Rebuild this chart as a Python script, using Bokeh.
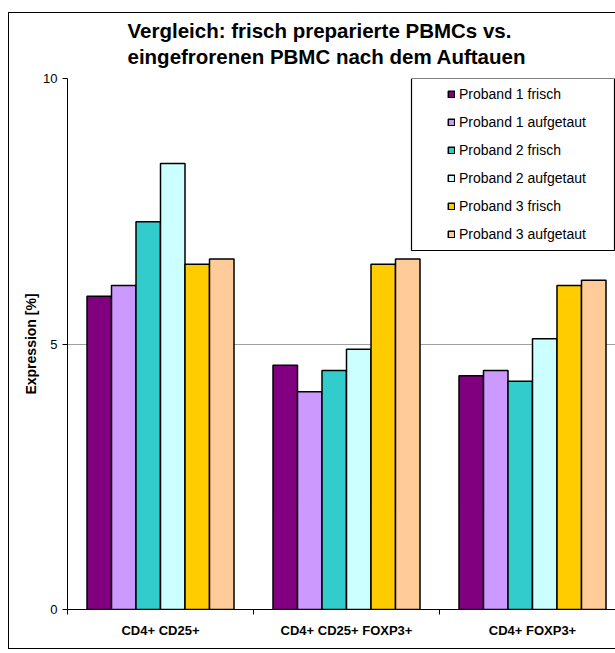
from bokeh.plotting import figure
from bokeh.models import (Range1d, FixedTicker, Legend, LegendItem, BoxAnnotation, Title,
                          ColumnDataSource, InlineStyleSheet)
from bokeh.embed import file_html
from bokeh.resources import INLINE

categories = ["CD4+ CD25+", "CD4+ CD25+ FOXP3+", "CD4+ FOXP3+"]
series_names = ["Proband 1 frisch", "Proband 1 aufgetaut", "Proband 2 frisch",
                "Proband 2 aufgetaut", "Proband 3 frisch", "Proband 3 aufgetaut"]
p1_frisch = [5.9, 4.6, 4.4]
p1_aufgetaut = [6.1, 4.1, 4.5]
p2_frisch = [7.3, 4.5, 4.3]
p2_aufgetaut = [8.4, 4.9, 5.1]
p3_frisch = [6.5, 6.5, 6.1]
p3_aufgetaut = [6.6, 6.6, 6.2]
series_values = [p1_frisch, p1_aufgetaut, p2_frisch, p2_aufgetaut, p3_frisch, p3_aufgetaut]
colors = ["#800080", "#CC99FF", "#33CCCC", "#CCFFFF", "#FFCC00", "#FFCC99"]
y_ticks = [0, 5, 10]
title_lines = ["Vergleich: frisch preparierte PBMCs vs.", "eingefrorenen PBMC nach dem Auftauen"]

FONT = "Liberation Sans"
W, H = 615, 653
FRAME_L, FRAME_T, FRAME_B = 67, 78, 609
CAT_PX = 186.0
x_end = (W - FRAME_L) / CAT_PX

p = figure(width=W, height=H, output_backend="svg", toolbar_location=None,
           x_range=Range1d(0, x_end), y_range=Range1d(0, 10), title=None,
           min_border_left=FRAME_L, min_border_right=0, min_border_top=FRAME_T,
           min_border_bottom=H - FRAME_B)
p.outline_line_color = None
p.background_fill_color = "white"
p.border_fill_color = "white"
p.stylesheets = [InlineStyleSheet(css="""
:host { position: relative; overflow: hidden; }
:host::after { content: ''; position: absolute; left: 8px; top: 12px; width: 640px; height: 637px;
  border: 1px solid black; box-sizing: border-box; pointer-events: none; }
""")]

t = Title(text="\n".join(title_lines), align="left", offset=60, standoff=20,
          text_font=FONT, text_font_size="20.5px", text_font_style="bold", text_color="black",
          text_line_height=1.15)
p.add_layout(t, "above")

bw = 24.5 / CAT_PX
renderers = []
for j, (name, vals, col) in enumerate(zip(series_names, series_values, colors)):
    xs = [i + 0.5 + (j - 2.5) * bw for i in range(len(categories))]
    src = ColumnDataSource(dict(x=xs, top=vals))
    r = p.vbar(x="x", top="top", width=bw, bottom=0, source=src, fill_color=col,
               line_color="black", line_width=1.5)
    renderers.append(r)

# axes
p.xgrid.visible = False
p.ygrid.ticker = FixedTicker(ticks=[5, 10])
p.ygrid.grid_line_color = "#a0a0a0"
p.ygrid.grid_line_width = 1

xa = p.xaxis[0]
xa.ticker = FixedTicker(ticks=[i + 0.5 for i in range(len(categories))],
                        minor_ticks=[float(i) for i in range(len(categories) + 1)])
xa.major_label_overrides = {i + 0.5: c for i, c in enumerate(categories)}
xa.major_tick_line_color = None
xa.major_tick_out = 0
xa.major_tick_in = 0
xa.minor_tick_out = 5
xa.minor_tick_in = 0
xa.minor_tick_line_color = "black"
xa.major_label_standoff = 8
xa.major_label_text_font = FONT
xa.major_label_text_font_size = "13px"
xa.major_label_text_font_style = "bold"
xa.major_label_text_color = "black"
xa.axis_line_color = "black"

ya = p.yaxis[0]
ya.ticker = FixedTicker(ticks=y_ticks, minor_ticks=[])
ya.major_tick_out = 5
ya.major_tick_in = 0
ya.major_label_standoff = 5
ya.major_label_text_font = FONT
ya.major_label_text_font_size = "13px"
ya.major_label_text_color = "black"
ya.axis_label = "Expression [%]"
ya.axis_label_text_font = FONT
ya.axis_label_text_font_size = "14px"
ya.axis_label_text_font_style = "bold"
ya.axis_label_text_color = "black"
ya.axis_label_standoff = 1
ya.axis_line_color = "black"

# legend frame
legend_box = BoxAnnotation(left=411, right=614, top=78, bottom=250,
                           left_units="canvas", right_units="canvas",
                           top_units="canvas", bottom_units="canvas",
                           fill_color="white", fill_alpha=1.0,
                           line_color="black", line_width=1.2, line_alpha=1.0)
p.add_layout(legend_box)

items = [LegendItem(label=n, renderers=[r]) for n, r in zip(series_names, renderers)]
legend = Legend(items=items, location=(380, 365), padding=0, margin=0, spacing=8,
                label_height=20, glyph_width=8, glyph_height=8, label_standoff=4,
                label_text_font=FONT, label_text_font_size="14px",
                label_text_color="black",
                border_line_color=None, background_fill_alpha=0)
p.add_layout(legend)

open("out.html", "w").write(file_html(p, INLINE))
